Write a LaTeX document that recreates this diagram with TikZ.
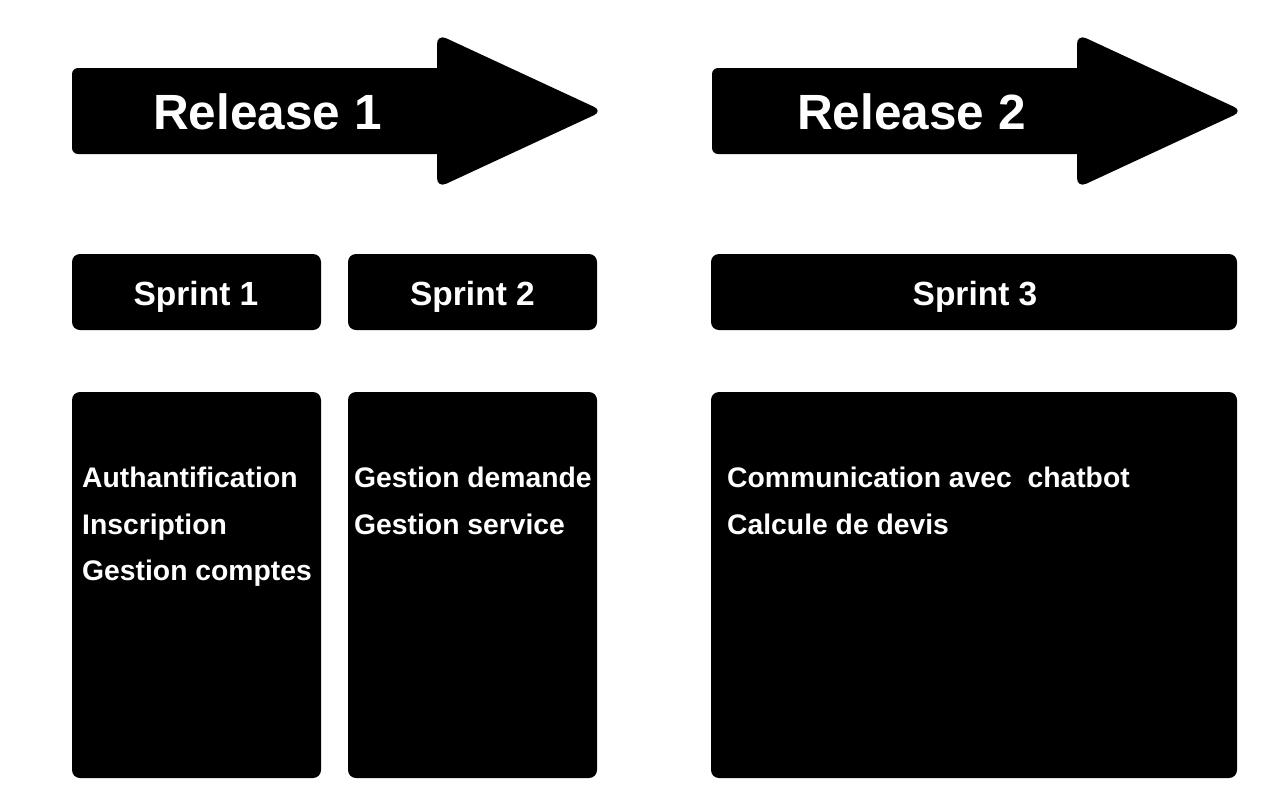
\documentclass[tikz,border=0pt]{standalone}
\usepackage{fontspec}
\setmainfont[Ligatures=NoCommon]{Liberation Sans}
\begin{document}
\begin{tikzpicture}[x=1pt,y=-1pt,
  relarrow/.style={fill=black,rounded corners=9pt},
  sprintbox/.style={fill=black,rounded corners=8pt,draw=none},
  reltext/.style={text=white,font=\fontsize{49.5}{55}\selectfont\bfseries,anchor=base west,inner sep=0pt},
  sprinttext/.style={text=white,font=\fontsize{33.5}{38}\selectfont\bfseries,anchor=base,inner sep=0pt},
  itemtext/.style={text=white,font=\fontsize{28.3}{34}\selectfont\bfseries,anchor=base west,inner sep=0pt}]
\useasboundingbox (0,0) rectangle (1277,793);
\fill[white] (0,0) rectangle (1277,793);
% release arrows
\foreach \dx in {0,640}{
  \fill[relarrow] (72+\dx,68) [sharp corners]-- (437+\dx,68) [rounded corners=10pt]-- (437+\dx,34)
     -- (603+\dx,111) -- (437+\dx,188) [sharp corners]
     -- (437+\dx,154) [rounded corners=6pt]-- (72+\dx,154) -- cycle;
}
\node[reltext] (r1) at (153,129) {Release 1};
\node[reltext] (r2) at (797,129) {Release 2};
% sprint headers
\node[sprintbox,minimum width=249pt,minimum height=76pt] (s1) at (196.5,292) {};
\node[sprintbox,minimum width=249pt,minimum height=76pt] (s2) at (472.5,292) {};
\node[sprintbox,minimum width=526pt,minimum height=76pt] (s3) at (974,292) {};
\node[sprinttext] (st1) at (196,305) {Sprint 1};
\node[sprinttext] (st2) at (472.5,305) {Sprint 2};
\node[sprinttext] (st3) at (975,305) {Sprint 3};
% content boxes
\node[sprintbox,minimum width=249pt,minimum height=386pt] (b1) at (196.5,585) {};
\node[sprintbox,minimum width=249pt,minimum height=386pt] (b2) at (472.5,585) {};
\node[sprintbox,minimum width=526pt,minimum height=386pt] (b3) at (974,585) {};
% items
\node[itemtext] (i11) at (82,487) {Authantification};
\node[itemtext] (i12) at (82,534) {Inscription};
\node[itemtext] (i13) at (82,580) {Gestion comptes};
\node[itemtext] (i21) at (354,487) {Gestion demande};
\node[itemtext] (i22) at (354,534) {Gestion service};
\node[itemtext] (i31) at (727,487) {Communication avec\ \ chatbot};
\node[itemtext] (i32) at (727,534) {Calcule de devis};
\end{tikzpicture}
\end{document}
